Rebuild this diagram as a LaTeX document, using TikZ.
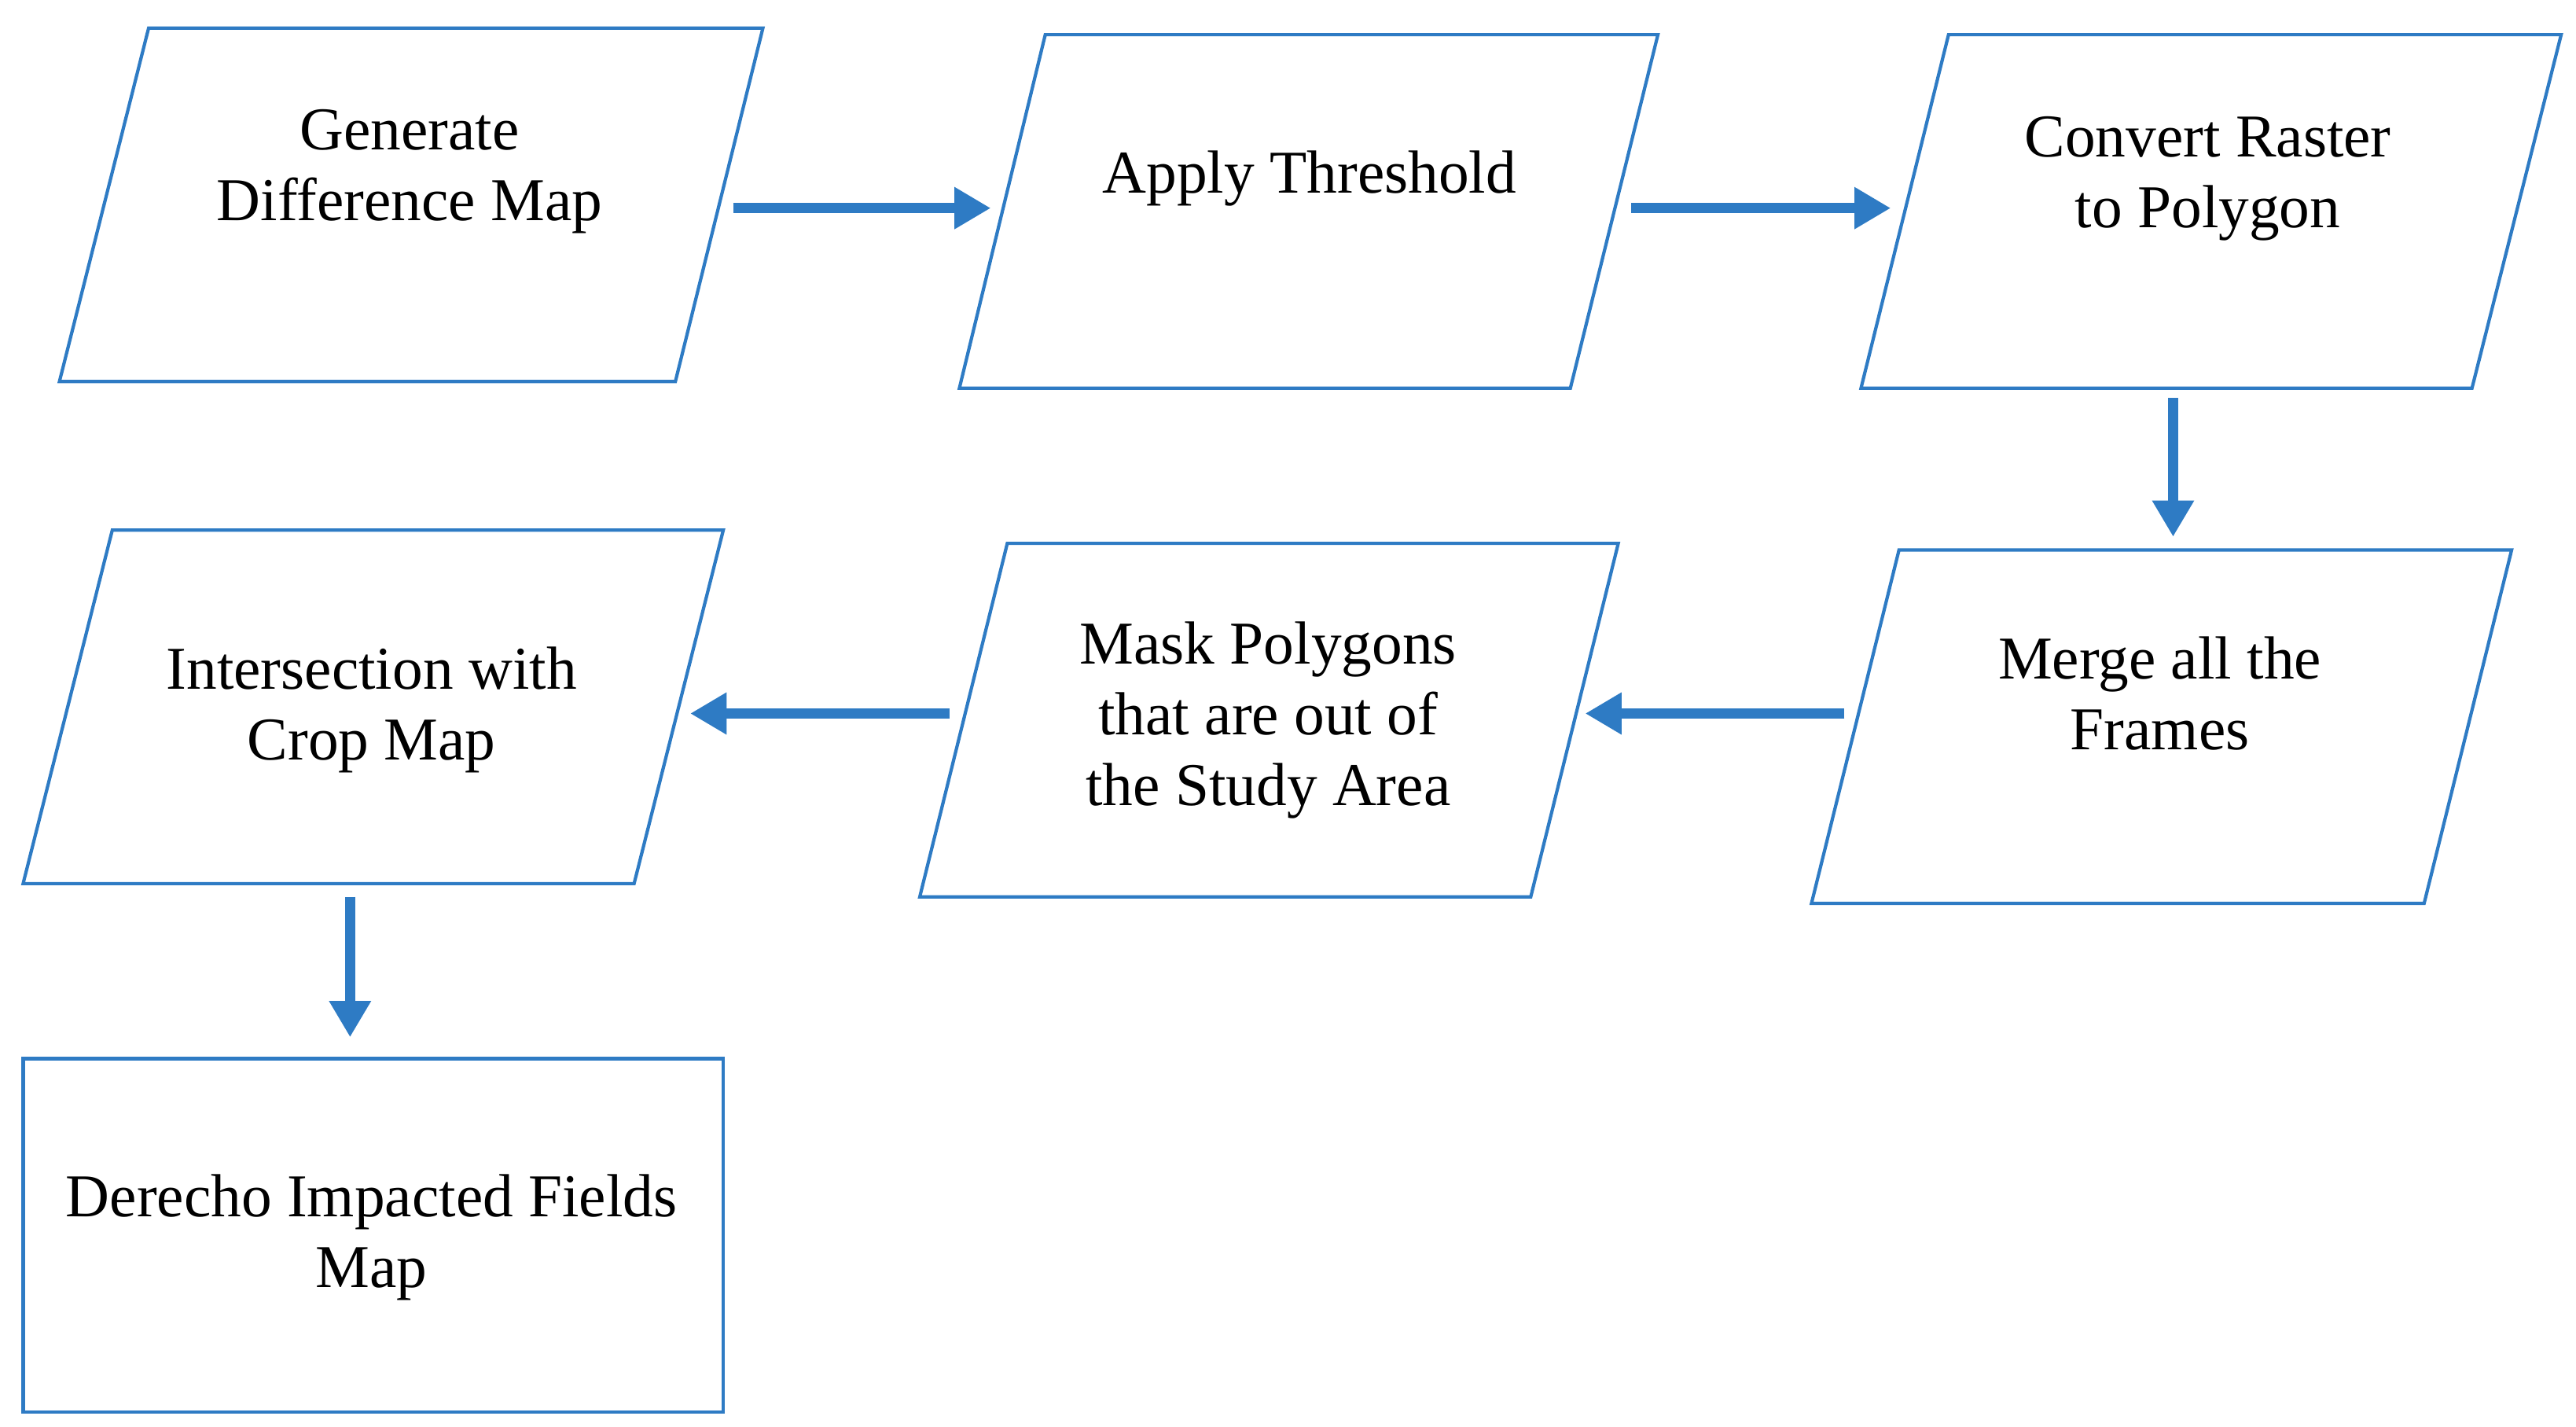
\documentclass[tikz,border=0pt]{standalone}
\usepackage{fontspec}
\setmainfont{Liberation Serif}
\usetikzlibrary{arrows.meta}
\definecolor{bl}{HTML}{2E7BC4}
\begin{document}
\begin{tikzpicture}[x=0.021cm,y=-0.021cm,
  box/.style={draw=bl,line width=2*0.021cm,fill=white},
  txt/.style={align=center,inner sep=0pt,font=\fontsize{22}{25.6}\selectfont},
  arr/.style={draw=bl,line width=6*0.021cm,-{Triangle[length=22*0.021cm,width=24*0.021cm]}}]
\useasboundingbox (0,0) rectangle (1560,864);
\fill[white] (0,0) rectangle (1560,864);
% shapes
\draw[box] (90,17) -- (462,17) -- (409,231) -- (36,231) -- cycle;
\draw[box] (633,21) -- (1004,21) -- (951,235) -- (581,235) -- cycle;
\draw[box] (1180,21) -- (1551,21) -- (1497,235) -- (1127,235) -- cycle;
\draw[box] (1150,333) -- (1521,333) -- (1468,547) -- (1097,547) -- cycle;
\draw[box] (610,329) -- (980,329) -- (927,543) -- (557,543) -- cycle;
\draw[box] (68,321) -- (438,321) -- (384,535) -- (14,535) -- cycle;
\draw[box] (14,641) rectangle (438,855);
% texts
\node[txt] (n1) at (248,104) {Generate\\Difference Map};
\node[txt] (n2) at (793,108) {Apply Threshold};
\node[txt] (n3) at (1337,108) {Convert Raster\\to Polygon};
\node[txt] (n4) at (1308,420) {Merge all the\\Frames};
\node[txt] (n5) at (768,436) {Mask Polygons\\that are out of\\the Study Area};
\node[txt] (n6) at (225,430) {Intersection with\\Crop Map};
\node[txt] (n7) at (225,749) {Derecho Impacted Fields\\Map};
% arrow endpoints
\coordinate (a1) at (444,126); \coordinate (b1) at (600,126);
\coordinate (a2) at (988,126); \coordinate (b2) at (1145,126);
\coordinate (a3) at (1316,241); \coordinate (b3) at (1316,325);
\coordinate (a4) at (1117,432); \coordinate (b4) at (960,432);
\coordinate (a5) at (575,432); \coordinate (b5) at (418,432);
\coordinate (a6) at (212,543); \coordinate (b6) at (212,628);
\foreach \i in {1,...,6} \draw[arr] (a\i) -- (b\i);
\end{tikzpicture}
\end{document}
